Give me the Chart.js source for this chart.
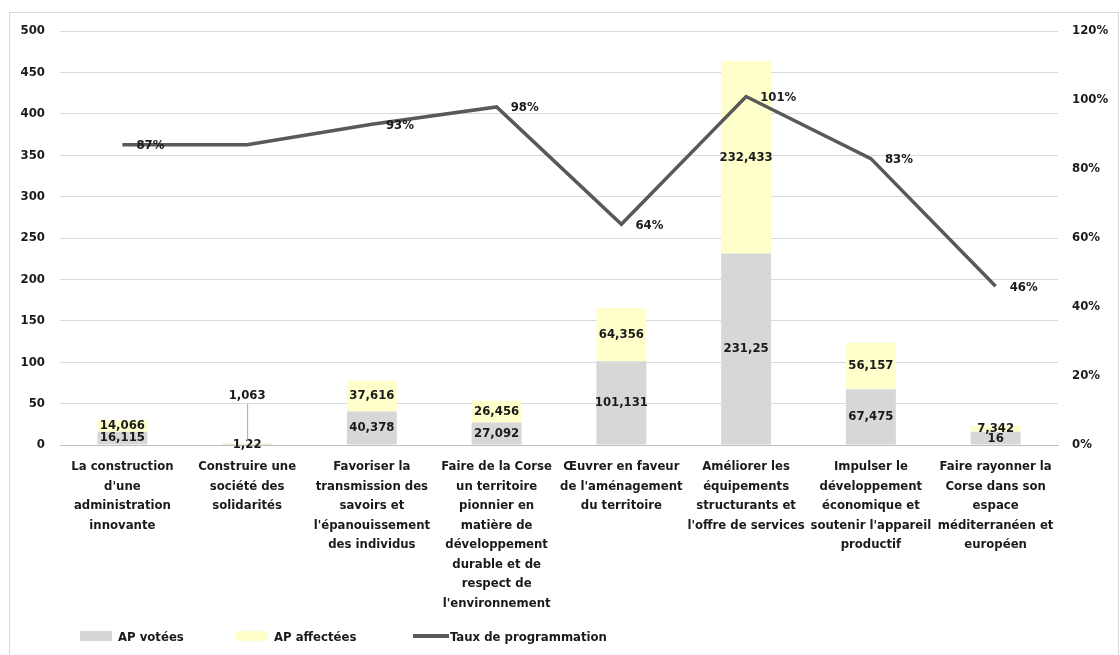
<!DOCTYPE html>
<html lang="fr">
<head>
<meta charset="utf-8">
<title>AP votées, AP affectées et taux de programmation</title>
<script src="https://cdn.jsdelivr.net/npm/chart.js@4.4.1/dist/chart.umd.min.js"></script>
<style>
  html, body { margin: 0; padding: 0; background: #fff; }
  #wrap { position: relative; width: 1120px; height: 655px; overflow: hidden; }
  #frame { position: absolute; left: 9px; top: 12px; right: 1px; bottom: -4px; border: 1px solid #d9d9d9; }
  canvas { position: absolute; left: 0; top: 0; }
  .lg { position: absolute; top: 628px; height: 16px; line-height: 16px; display: flex; align-items: center;
        font: bold 13px "Liberation Sans Narrow", "DejaVu Sans Condensed", "Liberation Sans", sans-serif; color: #1a1a1a; }
  .sw { display: inline-block; width: 32px; height: 10px; margin-right: 6px; }
  .ln { display: inline-block; width: 36px; height: 4px; margin-right: 1px; background: #595959; }
</style>
</head>
<body>
<div id="wrap">
  <div id="frame"></div>
  <canvas id="chart" width="1120" height="655"></canvas>
  <div class="lg" style="left:80px"><span class="sw" style="background:#d6d6d6"></span>AP votées</div>
  <div class="lg" style="left:236px"><span class="sw" style="background:#ffffcc"></span>AP affectées</div>
  <div class="lg" style="left:413px"><span class="ln"></span>Taux de programmation</div>
</div>
<script>
// Data
const categories = [
  ["La construction", "d'une", "administration", "innovante"],
  ["Construire une", "société des", "solidarités"],
  ["Favoriser la", "transmission des", "savoirs et", "l'épanouissement", "des individus"],
  ["Faire de la Corse", "un territoire", "pionnier en", "matière de", "développement", "durable et de", "respect de", "l'environnement"],
  ["Œuvrer en faveur", "de l'aménagement", "du territoire"],
  ["Améliorer les", "équipements", "structurants et", "l'offre de services"],
  ["Impulser le", "développement", "économique et", "soutenir l'appareil", "productif"],
  ["Faire rayonner la", "Corse dans son", "espace", "méditerranéen et", "européen"],
];
const apVotees = [16.115, 1.22, 40.378, 27.092, 101.131, 231.25, 67.475, 16];
const apAffectees = [14.066, 1.063, 37.616, 26.456, 64.356, 232.433, 56.157, 7.342];
const tauxProgrammation = [87, 87, 93, 98, 64, 101, 83, 46];
const tauxLabelShown = [true, false, true, true, true, true, true, true];
const leftTicks = [0, 50, 100, 150, 200, 250, 300, 350, 400, 450, 500];
const rightTicks = [0, 20, 40, 60, 80, 100, 120];

const fontFamily = '"Liberation Sans Narrow", "DejaVu Sans Condensed", "Liberation Sans", sans-serif';
Chart.defaults.font.family = fontFamily;
Chart.defaults.color = "#1a1a1a";

function formatNumber(v) {
  return String(v).replace(".", ",");
}

// Light stipple for the grey bars, like the original
function makeStipple() {
  const c = document.createElement("canvas");
  c.width = 2;
  c.height = 2;
  const g = c.getContext("2d");
  g.fillStyle = "#d3d3d3";
  g.fillRect(0, 0, 2, 2);
  g.fillStyle = "#dbdbdb";
  g.fillRect(0, 0, 1, 1);
  g.fillRect(1, 1, 1, 1);
  return g.createPattern(c, "repeat");
}

// Draws the numbers inside the bars and next to the line points
const valueLabels = {
  id: "valueLabels",
  afterDatasetsDraw(chart) {
    const ctx = chart.ctx;
    ctx.save();
    ctx.font = "bold 13px " + fontFamily;
    ctx.fillStyle = "#1a1a1a";
    ctx.textAlign = "center";
    ctx.textBaseline = "middle";

    [0, 1].forEach((di) => {
      const meta = chart.getDatasetMeta(di);
      const data = chart.data.datasets[di].data;
      meta.data.forEach((bar, i) => {
        const h = Math.abs(bar.base - bar.y);
        let y = (bar.y + bar.base) / 2;
        if (di === 1 && h < 4) {
          // segment too thin: label goes above with a leader line
          const ly = bar.y - 47;
          ctx.strokeStyle = "#a6a6a6";
          ctx.lineWidth = 1;
          ctx.beginPath();
          ctx.moveTo(bar.x + 0.5, bar.y - 2);
          ctx.lineTo(bar.x + 0.5, ly + 8);
          ctx.stroke();
          y = ly;
        }
        ctx.fillText(formatNumber(data[i]), bar.x, y);
      });
    });

    const lineMeta = chart.getDatasetMeta(2);
    ctx.textAlign = "left";
    lineMeta.data.forEach((pt, i) => {
      if (!tauxLabelShown[i]) return;
      ctx.fillText(tauxProgrammation[i] + "%", pt.x + 14, pt.y + 1);
    });
    ctx.restore();
  },
};

const tickFont = { size: 13, weight: "bold" };

const chart = new Chart(document.getElementById("chart"), {
  data: {
    labels: categories,
    datasets: [
      {
        type: "bar",
        label: "AP votées",
        data: apVotees,
        backgroundColor: makeStipple(),
        barPercentage: 0.4,
        categoryPercentage: 1,
        order: 1,
      },
      {
        type: "bar",
        label: "AP affectées",
        data: apAffectees,
        backgroundColor: "#ffffcc",
        barPercentage: 0.4,
        categoryPercentage: 1,
        order: 1,
      },
      {
        type: "line",
        label: "Taux de programmation",
        data: tauxProgrammation,
        yAxisID: "y1",
        borderColor: "#595959",
        backgroundColor: "#595959",
        borderWidth: 3.5,
        pointRadius: 0,
        tension: 0,
        order: 0,
      },
    ],
  },
  options: {
    responsive: false,
    animation: false,
    layout: { padding: { top: 31, left: 0, right: 0, bottom: 0 } },
    plugins: {
      legend: { display: false },
      tooltip: { enabled: false },
    },
    scales: {
      x: {
        stacked: true,
        grid: { display: false, drawTicks: false },
        border: { display: true, color: "#bfbfbf" },
        ticks: {
          autoSkip: false,
          maxRotation: 0,
          minRotation: 0,
          padding: 12,
          font: { size: 13, weight: "bold", lineHeight: 1.5 },
        },
        afterFit(scale) {
          scale.height = 210;
        },
      },
      y: {
        stacked: true,
        min: leftTicks[0],
        max: leftTicks[leftTicks.length - 1],
        afterBuildTicks(scale) {
          scale.ticks = leftTicks.map((v) => ({ value: v }));
        },
        grid: { color: "#dadada", drawTicks: false },
        border: { display: false },
        ticks: { padding: 15, font: tickFont },
        afterFit(scale) {
          scale.width = 60;
        },
      },
      y1: {
        position: "right",
        min: rightTicks[0],
        max: rightTicks[rightTicks.length - 1],
        afterBuildTicks(scale) {
          scale.ticks = rightTicks.map((v) => ({ value: v }));
        },
        grid: { display: false, drawTicks: false },
        border: { display: false },
        ticks: { padding: 14, font: tickFont, callback: (v) => v + "%" },
        afterFit(scale) {
          scale.width = 62;
        },
      },
    },
  },
  plugins: [valueLabels],
});
</script>
</body>
</html>
